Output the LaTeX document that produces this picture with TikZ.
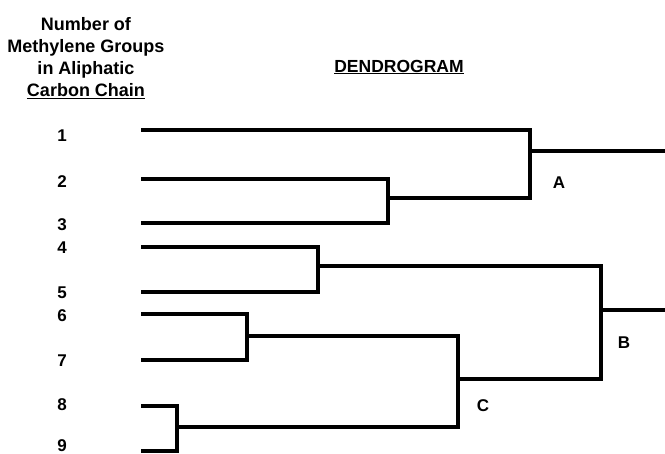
\documentclass[tikz,border=0pt]{standalone}
\usepackage{fontspec}
\setmainfont{Liberation Sans}
\usepackage{tikz}
\usetikzlibrary{positioning,calc}

\tikzset{
	num/.style={font=\bfseries\fontsize{17}{20}\selectfont, inner sep=0pt},
	clus/.style={font=\bfseries\fontsize{17}{20}\selectfont, inner sep=0pt},
	branch/.style={line width=3.2pt, line join=miter},
}

\begin{document}
\begin{tikzpicture}[x=1pt,y=-1pt]
		\useasboundingbox (0,0) rectangle (665,454);
		\node[align=center, font=\bfseries\fontsize{18}{22}\selectfont] (head) at (86,58) {Number of\\Methylene Groups\\in Aliphatic\\\underline{Carbon Chain}};
		\node[font=\bfseries\fontsize{17.5}{20}\selectfont, inner sep=0pt] (title) at (399,67) {\underline{DENDROGRAM}};
		
		\node[num] (n1) at (62,136) {1};
		\node[num] (n2) at (62,182) {2};
		\node[num] (n3) at (62,225) {3};
		\node[num] (n4) at (62,248) {4};
		\node[num] (n5) at (62,293) {5};
		\node[num] (n6) at (62,316) {6};
		\node[num] (n7) at (62,361) {7};
		\node[num] (n8) at (62,405) {8};
		\node[num] (n9) at (62,446) {9};
		
		\coordinate (l1) at (141,130);
		\coordinate (l2) at (141,179);
		\coordinate (l3) at (141,223);
		\coordinate (l4) at (141,247);
		\coordinate (l5) at (141,292);
		\coordinate (l6) at (141,314);
		\coordinate (l7) at (141,360);
		\coordinate (l8) at (141,406);
		\coordinate (l9) at (141,451);
		
		\coordinate (m23) at (388,198);
		\coordinate (mA) at (530,151);
		\coordinate (m45) at (318,266);
		\coordinate (m67) at (247,336);
		\coordinate (m89) at (177,427);
		\coordinate (mC) at (458,379);
		\coordinate (mB) at (601,310);
		\coordinate (root) at (665,230);
		
		\node[clus] (A) at (559,183) {A};
		\node[clus] (B) at (624,343) {B};
		\node[clus] (C) at (483,406) {C};
		
		\draw[branch] (l2) -| (m23) |- (l3);
		\draw[branch] (l1) -| (mA) |- (m23);
		\draw[branch] (l4) -| (m45) |- (l5);
		\draw[branch] (l6) -| (m67) |- (l7);
		\draw[branch] (l8) -| (m89) |- (l9);
		\draw[branch] (m67) -| (mC) |- (m89);
		\draw[branch] (m45) -| (mB) |- (mC);
		\draw[branch] (mA) -- (mA -| root);
		\draw[branch] (mB) -- (mB -| root);
	\end{tikzpicture}
\end{document}
